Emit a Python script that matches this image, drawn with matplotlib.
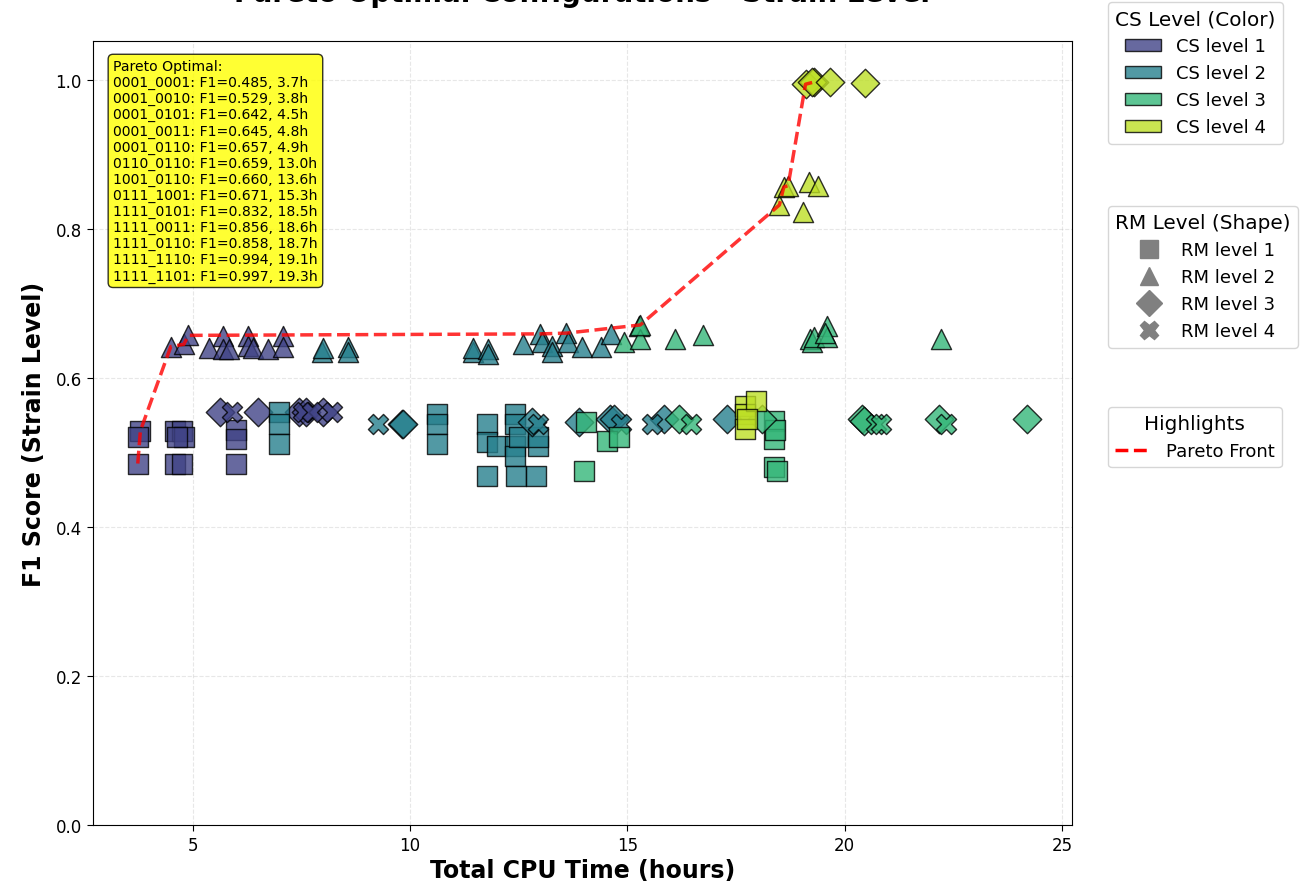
import numpy as np
import matplotlib
matplotlib.use("Agg")
import matplotlib.pyplot as plt
from matplotlib.patches import Patch
from matplotlib.lines import Line2D

# ---- data ----
# CS level 1
cs1_x = [3.74, 3.8, 3.74, 4.6, 4.75, 4.6, 4.75, 4.8, 4.65, 6.0, 6.0, 6.0,
         4.5, 4.8, 4.9, 5.37, 5.71, 5.71, 5.83, 6.28, 6.28, 6.4, 6.74, 7.09, 7.09,
         5.64, 6.51, 7.45, 7.6, 8.0,
         5.9, 7.55, 7.75, 8.2]
cs1_y = [0.485, 0.529, 0.52, 0.485, 0.485, 0.529, 0.529, 0.52, 0.52, 0.485, 0.53, 0.518,
         0.642, 0.645, 0.657, 0.640, 0.656, 0.639, 0.639, 0.656, 0.643, 0.640, 0.639, 0.656, 0.642,
         0.554, 0.554, 0.554, 0.554, 0.554,
         0.554, 0.554, 0.554, 0.554]
cs1_rm = [1] * 12 + [2] * 13 + [3] * 5 + [4] * 4

# CS level 2
cs2_x = [7.0, 7.0, 6.98, 10.62, 10.62, 10.62, 11.77, 11.77, 11.77, 12.0,
         12.41, 12.41, 12.41, 12.41, 12.45, 12.5, 12.9, 12.95, 12.95,
         7.98, 8.0, 8.58, 8.58, 11.45, 11.45, 11.79, 11.79, 12.59, 13.0, 13.03,
         13.26, 13.26, 13.6, 13.63, 13.95, 14.4, 14.63,
         9.82, 9.85, 12.8, 13.9, 14.6, 14.7, 15.85, 17.29,
         9.27, 12.94, 14.86, 15.57]
cs2_y = [0.554, 0.538, 0.511, 0.551, 0.538, 0.511, 0.538, 0.514, 0.468, 0.509,
         0.552, 0.538, 0.509, 0.495, 0.468, 0.520, 0.468, 0.509, 0.520,
         0.635, 0.640, 0.642, 0.635, 0.635, 0.640, 0.639, 0.632, 0.646, 0.659, 0.648,
         0.643, 0.635, 0.660, 0.648, 0.642, 0.642, 0.659,
         0.538, 0.538, 0.541, 0.541, 0.545, 0.545, 0.545, 0.545,
         0.538, 0.538, 0.538, 0.538]
cs2_rm = [1] * 19 + [2] * 18 + [3] * 8 + [4] * 4

# CS level 3
cs3_x = [14.06, 14.01, 14.54, 14.82, 18.37, 18.37, 18.4, 18.37, 18.45,
         14.93, 15.28, 15.3, 15.3, 16.1, 16.74, 19.2, 19.25, 19.3, 19.59, 19.6, 19.55, 22.22,
         16.19, 18.1, 20.39, 20.45, 22.16, 24.2,
         16.47, 20.71, 20.83, 22.34]
cs3_y = [0.541, 0.475, 0.515, 0.520, 0.542, 0.518, 0.530, 0.481, 0.475,
         0.648, 0.670, 0.652, 0.671, 0.652, 0.657, 0.652, 0.648, 0.655, 0.670, 0.655, 0.660, 0.652,
         0.545, 0.545, 0.545, 0.542, 0.545, 0.545,
         0.538, 0.538, 0.538, 0.538]
cs3_rm = [1] * 9 + [2] * 13 + [3] * 6 + [4] * 4

# CS level 4
cs4_x = [17.71, 17.71, 17.71, 17.96, 17.75,
         18.5, 18.6, 18.7, 19.17, 19.38, 19.04,
         19.1, 19.3, 19.24, 19.66, 20.46]
cs4_y = [0.562, 0.551, 0.531, 0.569, 0.545,
         0.832, 0.856, 0.858, 0.863, 0.858, 0.823,
         0.994, 0.997, 0.997, 0.997, 0.995]
cs4_rm = [1] * 5 + [2] * 6 + [3] * 5

# Pareto front
pareto_names = ["0001_0001", "0001_0010", "0001_0101", "0001_0011", "0001_0110",
                "0110_0110", "1001_0110", "0111_1001", "1111_0101", "1111_0011",
                "1111_0110", "1111_1110", "1111_1101"]
pareto_f1 = [0.485, 0.529, 0.642, 0.645, 0.657, 0.659, 0.660, 0.671, 0.832, 0.856,
             0.858, 0.994, 0.997]
pareto_time = [3.74, 3.8, 4.5, 4.8, 4.9, 13.0, 13.6, 15.3, 18.5, 18.6, 18.7, 19.1, 19.3]

cs_labels = ["CS level 1", "CS level 2", "CS level 3", "CS level 4"]
rm_labels = ["RM level 1", "RM level 2", "RM level 3", "RM level 4"]
rm_markers = ["s", "^", "D", "X"]

# ---- figure ----
W, H = 1309, 887
fig = plt.figure(figsize=(W / 100, H / 100), dpi=100)
AX_L, AX_R, AX_T, AX_B = 93, 1072, 42, 826
ax = fig.add_axes([AX_L / W, (H - AX_B) / H, (AX_R - AX_L) / W, (AX_B - AX_T) / H])

colors = plt.cm.viridis(np.linspace(0.2, 0.9, 4))
groups = [(cs1_x, cs1_y, cs1_rm), (cs2_x, cs2_y, cs2_rm),
          (cs3_x, cs3_y, cs3_rm), (cs4_x, cs4_y, cs4_rm)]
for ci, (gx, gy, grm) in enumerate(groups):
    gx = np.array(gx); gy = np.array(gy); grm = np.array(grm)
    for ri, mk in enumerate(rm_markers):
        sel = grm == ri + 1
        if sel.any():
            ax.scatter(gx[sel], gy[sel], marker=mk, s=210,
                       color=colors[ci], alpha=0.8, edgecolors="black",
                       linewidths=1, zorder=3)

ax.plot(pareto_time, pareto_f1, "--", color="red", lw=2.5, alpha=0.8, zorder=4)

txt = "Pareto Optimal:\n" + "\n".join(
    f"{n}: F1={f:.3f}, {t:.1f}h" for n, f, t in zip(pareto_names, pareto_f1, pareto_time))
ax.text(0.0205, 0.977, txt, transform=ax.transAxes, fontsize=10.1, va="top", ha="left",
        linespacing=1.18,
        bbox=dict(boxstyle="round,pad=0.35", facecolor="yellow", alpha=0.8,
                  edgecolor="black"), zorder=6)

ax.set_xlim(2.71, 25.23)
ax.set_ylim(0, 1.052)
ax.set_xticks([5, 10, 15, 20, 25])
ax.set_yticks([0.0, 0.2, 0.4, 0.6, 0.8, 1.0])
ax.tick_params(labelsize=12, length=4.5)
ax.grid(True, linestyle="--", alpha=0.3)
ax.set_xlabel("Total CPU Time (hours)", fontsize=17, fontweight="bold", labelpad=3)
ax.set_ylabel("F1 Score (Strain Level)", fontsize=17, fontweight="bold", labelpad=7)

fig.text((AX_L + AX_R) / 2 / W, 1 - 2 / H, "Pareto Optimal Configurations - Strain Level",
         ha="center", va="baseline", fontsize=20, fontweight="bold")

cs_handles = [Patch(facecolor=colors[i], edgecolor="black", alpha=0.8, label=cs_labels[i])
              for i in range(4)]
rm_handles = [Line2D([0], [0], marker=rm_markers[i], color="gray", linestyle="None",
                     markersize=13, label=rm_labels[i]) for i in range(4)]
hl_handles = [Line2D([0], [0], color="red", linestyle="--", lw=2.5, label="Pareto Front")]

ax_w = AX_R - AX_L
ax_h = AX_B - AX_T
lx = (1108 - AX_L) / ax_w
def ly(py):
    return (AX_B - py) / ax_h

leg1 = ax.legend(handles=cs_handles, title="CS Level (Color)", loc="upper left",
                 bbox_to_anchor=(lx, ly(3)), borderaxespad=0, fontsize=13,
                 title_fontsize=14.4)
ax.add_artist(leg1)
leg2 = ax.legend(handles=rm_handles, title="RM Level (Shape)", loc="upper left",
                 bbox_to_anchor=(lx, ly(207)), borderaxespad=0, fontsize=13,
                 title_fontsize=14.4)
ax.add_artist(leg2)
leg3 = ax.legend(handles=hl_handles, title="Highlights", loc="upper left",
                 bbox_to_anchor=(lx, ly(408)), borderaxespad=0, fontsize=13,
                 title_fontsize=14.4)

fig.savefig("out.png", dpi=100)
